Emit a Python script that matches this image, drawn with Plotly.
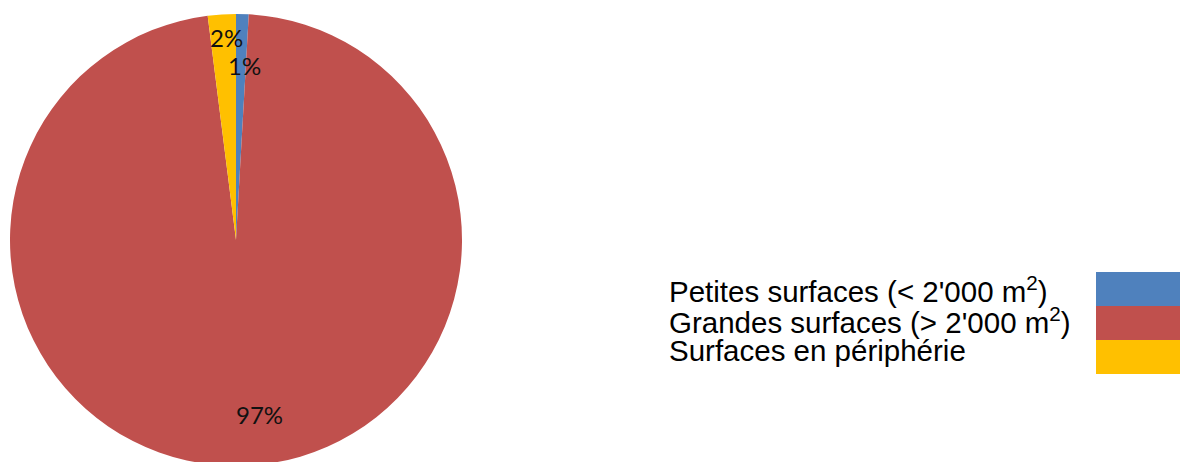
import math
import plotly.graph_objects as go

# ---- data ----
categories = ["Petites surfaces (&lt; 2'000 m<sup>2</sup>)",
              "Grandes surfaces (&gt; 2'000 m<sup>2</sup>)",
              "Surfaces en périphérie"]
values = [0.9, 97.1, 2.0]
colors = ["#4F81BD", "#C0504D", "#FFC000"]
# style: label placement relative to each slice's mid-angle
label_radius = [0.775, 0.78, 0.895]     # fraction of pie radius
label_angle_shift = [1.2, -5.8, 0.9]    # degrees

W, H = 1180, 470

# pie placement (pixels)
pie_left, pie_right = 10, 462
pie_top = 14
diam = pie_right - pie_left
cx = (pie_left + pie_right) / 2
cy = pie_top + diam / 2
R = diam / 2

fig = go.Figure()
fig.add_trace(go.Pie(
    values=values,
    labels=categories,
    marker=dict(colors=colors, line=dict(width=0)),
    sort=False,
    direction="clockwise",
    rotation=0,
    textinfo="none",
    hoverinfo="label+percent",
    showlegend=False,
    domain=dict(x=[pie_left / W, pie_right / W],
                y=[(H - (pie_top + diam)) / H, (H - pie_top) / H]),
))

annotations = []
shapes = []

# percentage labels placed around slice mid-angles
total = sum(values)
cum = 0.0
for v, f, da in zip(values, label_radius, label_angle_shift):
    mid = (cum + v / 2) / total * 2 * math.pi + math.radians(da)
    cum += v
    px = cx + R * f * math.sin(mid)
    py = cy - R * f * math.cos(mid)
    annotations.append(dict(
        x=px / W, y=(H - py) / H, xref="paper", yref="paper",
        text=f"{round(v / total * 100)}%", showarrow=False,
        xanchor="center", yanchor="middle",
        font=dict(family="Lato", size=24, color="#111111"),
    ))

# legend: text on the left, colour blocks on the right
leg_text_x = 667
leg_box_x0 = 1096
leg_top = 272
box_h = 34
line_h = 30.5
text_y0 = 289.5
for i, (c, col) in enumerate(zip(categories, colors)):
    annotations.append(dict(
        x=leg_text_x / W, y=(H - (text_y0 + i * line_h)) / H,
        xref="paper", yref="paper", text=c, showarrow=False,
        xanchor="left", yanchor="middle",
        font=dict(family="Liberation Sans, Arial", size=29.5, color="#000000"),
    ))
    shapes.append(dict(
        type="rect", xref="paper", yref="paper",
        x0=leg_box_x0 / W, x1=1.0,
        y0=(H - (leg_top + (i + 1) * box_h)) / H,
        y1=(H - (leg_top + i * box_h)) / H,
        fillcolor=col, line=dict(width=0),
    ))

fig.update_layout(
    width=W, height=H, autosize=False,
    margin=dict(l=0, r=0, t=0, b=0),
    paper_bgcolor="white", plot_bgcolor="white",
    annotations=annotations, shapes=shapes,
)

fig.write_html("out.html",
               post_script="document.documentElement.style.overflow='hidden';document.body.style.overflow='hidden';")
